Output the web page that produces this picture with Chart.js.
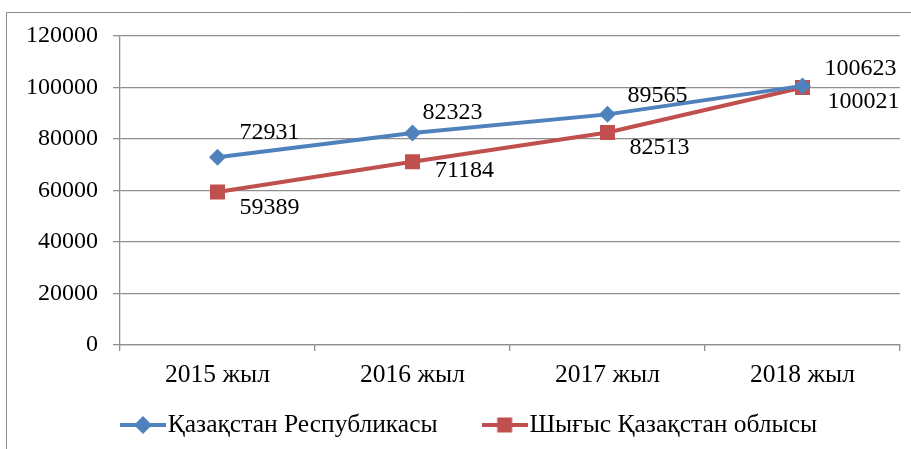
<!DOCTYPE html>
<html>
<head>
<meta charset="utf-8">
<script src="https://cdn.jsdelivr.net/npm/chart.js@4/dist/chart.umd.min.js"></script>
<style>
  html, body { margin: 0; padding: 0; background: #fff; }
  canvas { display: block; }
</style>
</head>
<body>
<canvas id="c" width="911" height="449"></canvas>
<script>
const categories = ['2015 жыл', '2016 жыл', '2017 жыл', '2018 жыл'];
const seriesNames = ['Қазақстан Республикасы', 'Шығыс Қазақстан облысы'];
const republicValues = [72931, 82323, 89565, 100623];
const eastValues = [59389, 71184, 82513, 100021];
const yTicks = [0, 20000, 40000, 60000, 80000, 100000, 120000];

// label placement (pixels relative to each point)
const republicLabelOffsets = [[52, -24], [40, -20], [50, -19], [58, -17]];
const eastLabelOffsets = [[52, 16], [52, 9], [52, 15], [61, 14]];

const BLUE = '#4F81BD';
const RED = '#C0504D';
const GRID = '#8f8f8f';
const FONT = 'Liberation Serif, "Times New Roman", serif';
const LEGEND_FONT_SIZE = 25.5;
const LEGEND_BOX = 24;
const LEGEND_PAD = 55;
const LEGEND_LAYOUT_HEIGHT = 44;

function legendIcon(color, shape) {
  const c = document.createElement('canvas');
  c.width = 46; c.height = 20;
  const g = c.getContext('2d');
  g.strokeStyle = color; g.lineWidth = 4;
  g.beginPath(); g.moveTo(0, 10); g.lineTo(46, 10); g.stroke();
  g.fillStyle = color;
  g.beginPath();
  if (shape === 'diamond') {
    g.moveTo(23, 1); g.lineTo(32, 10); g.lineTo(23, 19); g.lineTo(14, 10);
  } else {
    g.rect(15.5, 2.5, 15, 15);
  }
  g.closePath(); g.fill();
  return c;
}
const icons = [legendIcon(BLUE, 'diamond'), legendIcon(RED, 'square')];

const framePlugin = {
  id: 'frame',
  beforeDraw(chart) {
    const ctx = chart.ctx;
    ctx.save();
    ctx.fillStyle = '#fff';
    ctx.fillRect(0, 0, chart.width, chart.height);
    ctx.strokeStyle = '#8a8a8a';
    ctx.lineWidth = 1;
    ctx.beginPath();
    ctx.moveTo(6.5, chart.height);
    ctx.lineTo(6.5, 12.5);
    ctx.lineTo(chart.width, 12.5);
    ctx.stroke();
    ctx.restore();
  }
};

const legendPlacePlugin = {
  id: 'legendPlace',
  beforeLayout(chart) {
    const lg = chart.legend;
    if (!lg || lg._wrapped) return;
    const origFit = lg.fit;
    lg.fit = function () {
      origFit.call(this);
      this.height = LEGEND_LAYOUT_HEIGHT;
    };
    lg._wrapped = true;
  },
  afterLayout(chart) {
    const lg = chart.legend;
    if (!lg) return;
    const pad = lg.options.labels.padding;
    const w = lg.right - lg.left;
    lg.left = 131 - pad;
    lg.right = lg.left + w;
    lg.top = 425 - LEGEND_FONT_SIZE / 2 - pad;
    lg.bottom = lg.top + LEGEND_FONT_SIZE + 2 * pad;
  }
};

const dataLabelPlugin = {
  id: 'dataLabels',
  afterDatasetsDraw(chart) {
    const ctx = chart.ctx;
    const offsets = [republicLabelOffsets, eastLabelOffsets];
    ctx.save();
    ctx.font = '24px ' + FONT;
    ctx.fillStyle = '#000';
    ctx.textAlign = 'center';
    ctx.textBaseline = 'middle';
    chart.data.datasets.forEach((ds, di) => {
      const meta = chart.getDatasetMeta(di);
      meta.data.forEach((pt, i) => {
        const o = offsets[di][i];
        ctx.fillText(String(ds.data[i]), pt.x + o[0], pt.y + o[1]);
      });
    });
    ctx.restore();
  }
};

new Chart(document.getElementById('c'), {
  type: 'line',
  data: {
    labels: categories,
    datasets: [
      {
        label: seriesNames[0],
        data: republicValues,
        borderColor: BLUE,
        backgroundColor: BLUE,
        borderWidth: 4,
        pointStyle: 'rectRot',
        pointRadius: 8.5,
        pointHoverRadius: 8.5,
        pointBorderWidth: 0,
        tension: 0
      },
      {
        label: seriesNames[1],
        data: eastValues,
        borderColor: RED,
        backgroundColor: RED,
        borderWidth: 4,
        pointStyle: 'rect',
        pointRadius: 10.6,
        pointHoverRadius: 10.6,
        pointBorderWidth: 0,
        tension: 0
      }
    ]
  },
  options: {
    responsive: false,
    animation: false,
    devicePixelRatio: 1,
    layout: { padding: { left: 0, top: 36, right: 11, bottom: 0 } },
    plugins: {
      tooltip: { enabled: false },
      legend: {
        position: 'bottom',
        align: 'start',
        labels: {
          font: { family: FONT, size: LEGEND_FONT_SIZE },
          color: '#000',
          usePointStyle: true,
          pointStyleWidth: LEGEND_BOX,
          padding: LEGEND_PAD,
          generateLabels(chart) {
            return chart.data.datasets.map((ds, i) => ({
              text: ds.label,
              pointStyle: icons[i],
              fillStyle: ds.borderColor,
              strokeStyle: ds.borderColor,
              lineWidth: 0,
              fontColor: '#000',
              hidden: false,
              datasetIndex: i
            }));
          }
        }
      }
    },
    scales: {
      x: {
        type: 'category',
        offset: true,
        grid: {
          display: true,
          drawOnChartArea: false,
          drawTicks: true,
          tickLength: 6,
          offset: true,
          color: GRID,
          lineWidth: 1.3
        },
        border: { display: true, color: GRID, width: 1.3 },
        ticks: {
          font: { family: FONT, size: 25.5 },
          color: '#000',
          padding: 9,
          maxRotation: 0,
          autoSkip: false
        },
        afterFit(scale) {
          scale.height = (449 - 345) - LEGEND_LAYOUT_HEIGHT;
        }
      },
      y: {
        min: 0,
        max: 120000,
        afterBuildTicks(scale) { scale.ticks = yTicks.map(v => ({ value: v })); },
        grid: {
          color: GRID,
          lineWidth: 1.3,
          drawTicks: true,
          tickLength: 7
        },
        border: { display: true, color: GRID, width: 1.3 },
        ticks: {
          font: { family: FONT, size: 24 },
          color: '#000',
          padding: 15,
          callback: (v) => String(v)
        },
        afterFit(scale) { scale.width = 120; }
      }
    }
  },
  plugins: [framePlugin, legendPlacePlugin, dataLabelPlugin]
});
</script>
</body>
</html>
